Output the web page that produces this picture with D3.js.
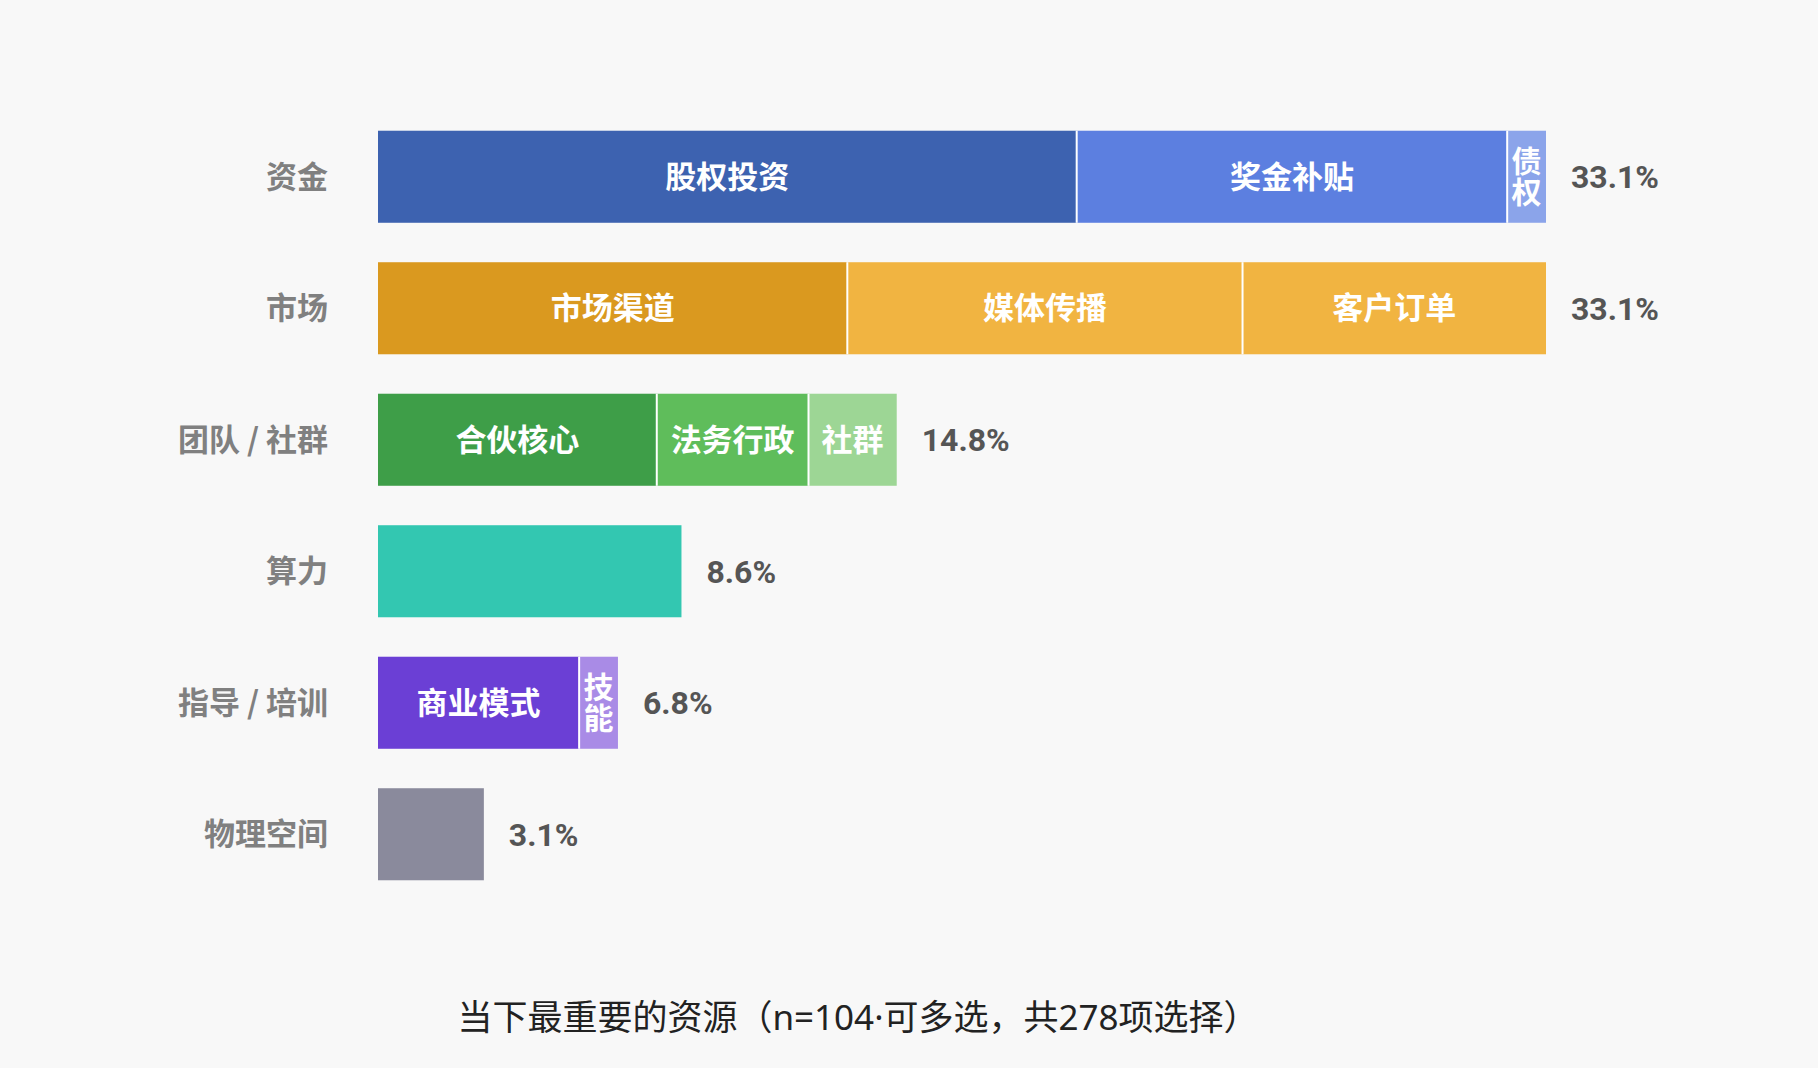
<!DOCTYPE html>
<html>
<head>
<meta charset="utf-8">
<script src="https://cdn.jsdelivr.net/npm/d3@7"></script>
<style>
  html, body { margin: 0; padding: 0; background: #f8f8f8; }
  svg { display: block; }
</style>
</head>
<body>
<svg id="chart"></svg>
<script>
// categories, top to bottom
const categories = ["资金", "市场", "团队 / 社群", "算力", "指导 / 培训", "物理空间"];
// total share of all 278 choices, %
const totals = [33.1, 33.1, 14.8, 8.6, 6.8, 3.1];
// sub-items inside each bar (empty name = no label)
const segNames = [
    ["股权投资", "奖金补贴", "债权"],
    ["市场渠道", "媒体传播", "客户订单"],
    ["合伙核心", "法务行政", "社群"],
    [""],
    ["商业模式", "技能"],
    [""]
];
const segValues = [
    [19.8, 12.2, 1.1],
    [13.3, 11.2, 8.6],
    [7.9, 4.3, 2.5],
    [8.6],
    [5.7, 1.1],
    [3.0]
];
const segColors = [
    ["#3d62b0", "#5c7fe0", "#8ba4ea"],
    ["#da991f", "#f1b441", "#f1b441"],
    ["#3e9e48", "#5fbd5b", "#9dd695"],
    ["#33c7b1"],
    ["#6b3fd5", "#a98be6"],
    ["#8a8a9c"]
];
const title = "当下最重要的资源（n=104·可多选，共278项选择）";

const W = 1818, H = 1068;
const svg = d3.select("#chart").attr("width", W).attr("height", H);

svg.append("rect").attr("width", W).attr("height", H).attr("fill", "#f8f8f8");

const cjk = "'Noto Sans CJK SC', 'Noto Sans', sans-serif";

//x runs from the left edge of the bars, 33.1% ends at ~1546
const x = d3.scaleLinear().domain([0, 33.1]).range([378, 1546]);
const y = d3.scaleBand()
    .domain(categories)
    .range([111, 900])
    .paddingInner(0.3)
    .paddingOuter(0.15);

//flatten the segments so each one knows where it starts
const segs = [];
categories.forEach((c, i) => {
    let acc = 0;
    segValues[i].forEach((v, j) => {
        segs.push({cat: c, name: segNames[i][j], start: acc, value: v, color: segColors[i][j]});
        acc += v;
    });
});

const g = svg.append("g");

g.selectAll("rect.seg")
    .data(segs)
    .join("rect")
    .attr("class", "seg")
    .attr("x", d => x(d.start))
    .attr("y", d => y(d.cat))
    .attr("width", d => x(d.start + d.value) - x(d.start))
    .attr("height", y.bandwidth())
    .attr("fill", d => d.color);

//thin white gaps between segments
g.selectAll("line.sep")
    .data(segs.filter(d => d.start > 0))
    .join("line")
    .attr("class", "sep")
    .attr("x1", d => x(d.start))
    .attr("x2", d => x(d.start))
    .attr("y1", d => y(d.cat))
    .attr("y2", d => y(d.cat) + y.bandwidth())
    .attr("stroke", "#ffffff")
    .attr("stroke-width", 2);

//segment labels, stacked vertically when the segment is narrow
const fs = 31;
segs.filter(d => d.name).forEach(d => {
    const w = x(d.start + d.value) - x(d.start);
    const cx = x(d.start) + w / 2;
    const cy = y(d.cat) + y.bandwidth() / 2;
    if (w > d.name.length * fs + 10) {
        g.append("text")
            .attr("x", cx).attr("y", cy).attr("dy", "0.36em")
            .attr("fill", "#ffffff")
            .attr("font-family", cjk)
            .attr("font-weight", 700)
            .attr("font-size", fs)
            .attr("text-anchor", "middle")
            .text(d.name);
    } else {
        const chars = d.name.split("");
        chars.forEach((ch, k) => {
            g.append("text")
                .attr("x", cx)
                .attr("y", cy + (k - (chars.length - 1) / 2) * 31)
                .attr("dy", "0.36em")
                .attr("fill", "#ffffff")
                .attr("font-family", cjk)
                .attr("font-weight", 700)
                .attr("font-size", 30)
                .attr("text-anchor", "middle")
                .text(ch);
        });
    }
});

//category labels on the left
g.selectAll("text.cat")
    .data(categories)
    .join("text")
    .attr("class", "cat")
    .attr("x", 328)
    .attr("y", d => y(d) + y.bandwidth() / 2)
    .attr("dy", "0.36em")
    .attr("text-anchor", "end")
    .attr("fill", "#808080")
    .attr("font-family", cjk)
    .attr("font-weight", 700)
    .attr("font-size", 31)
    .text(d => d);

//totals at the bar ends
g.selectAll("text.val")
    .data(categories)
    .join("text")
    .attr("class", "val")
    .attr("x", (d, i) => x(segValues[i].reduce((a, b) => a + b, 0)) + 25)
    .attr("y", d => y(d) + y.bandwidth() / 2)
    .attr("dy", "0.36em")
    .attr("fill", "#555555")
    .attr("font-family", "Roboto, 'Noto Sans', sans-serif")
    .attr("font-weight", 700)
    .attr("font-size", 32)
    .text((d, i) => totals[i].toFixed(1) + "%");

//caption under the chart
svg.append("text")
    .attr("x", 858)
    .attr("y", 1017)
    .attr("dy", "0.36em")
    .attr("text-anchor", "middle")
    .attr("fill", "#222222")
    .attr("font-family", "'Noto Sans', 'Noto Sans CJK SC', sans-serif")
    .attr("font-size", 35)
    .text(title);
</script>
</body>
</html>
